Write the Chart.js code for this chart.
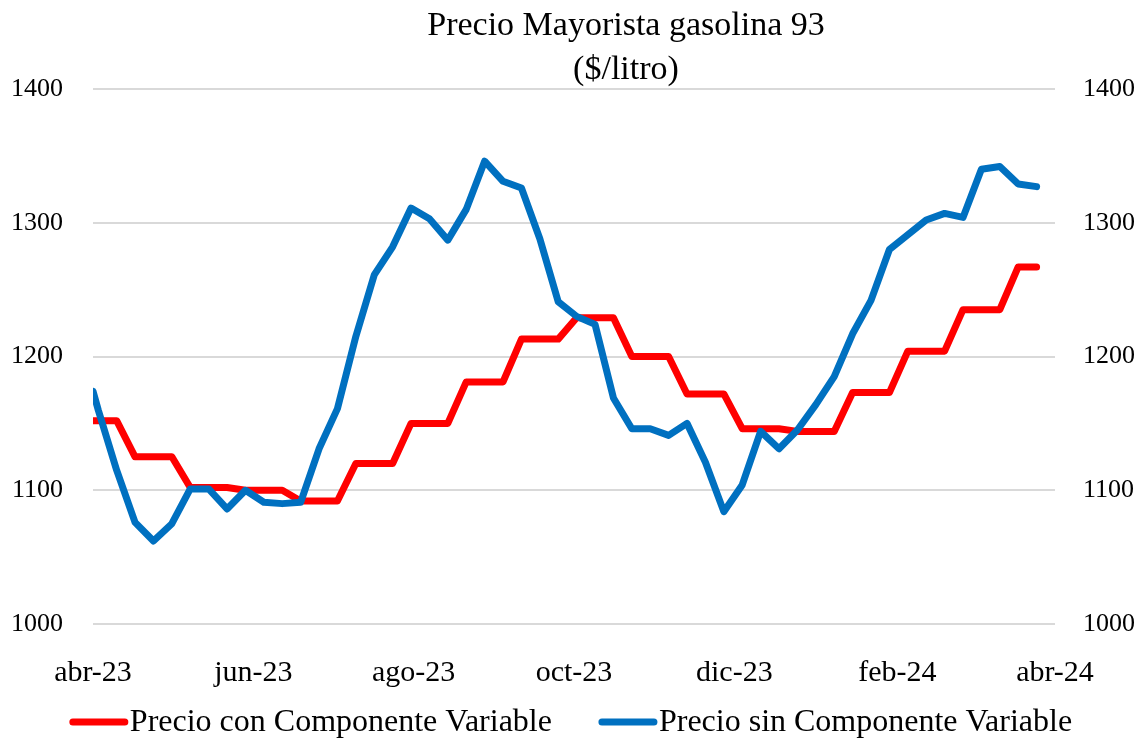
<!DOCTYPE html>
<html>
<head>
<meta charset="utf-8">
<script src="https://cdn.jsdelivr.net/npm/chart.js@4.4.1/dist/chart.umd.min.js"></script>
<style>
  html, body { margin: 0; padding: 0; background: #ffffff; }
  #wrap { width: 1147px; height: 740px; position: relative; }
</style>
</head>
<body>
<div id="wrap"><canvas id="c" width="1147" height="740"></canvas></div>
<script>
// ---------------- data ----------------
const titleLines = ["Precio Mayorista gasolina 93", "($/litro)"];
const seriesNames = ["Precio con Componente Variable", "Precio sin Componente Variable"];

const weekDates = [
  "2023-04-01","2023-04-03","2023-04-10","2023-04-17","2023-04-24","2023-05-01","2023-05-08",
  "2023-05-15","2023-05-22","2023-05-29","2023-06-05","2023-06-12","2023-06-19","2023-06-26",
  "2023-07-03","2023-07-10","2023-07-17","2023-07-24","2023-07-31","2023-08-07","2023-08-14",
  "2023-08-21","2023-08-28","2023-09-04","2023-09-11","2023-09-18","2023-09-25","2023-10-02",
  "2023-10-09","2023-10-16","2023-10-23","2023-10-30","2023-11-06","2023-11-13","2023-11-20",
  "2023-11-27","2023-12-04","2023-12-11","2023-12-18","2023-12-25","2024-01-01","2024-01-08",
  "2024-01-15","2024-01-22","2024-01-29","2024-02-05","2024-02-12","2024-02-19","2024-02-26",
  "2024-03-04","2024-03-11","2024-03-18","2024-03-25"
];

const conComponente = [
  1152, 1152, 1152, 1125, 1125, 1125, 1102, 1102, 1102, 1100, 1100, 1100, 1092, 1092,
  1092, 1120, 1120, 1120, 1150, 1150, 1150, 1181, 1181, 1181, 1213, 1213, 1213, 1229,
  1229, 1229, 1200, 1200, 1200, 1172, 1172, 1172, 1146, 1146, 1146, 1144, 1144, 1144,
  1173, 1173, 1173, 1204, 1204, 1204, 1235, 1235, 1235, 1267, 1267
];

const sinComponente = [
  1174, 1160, 1115, 1076, 1062, 1075, 1101, 1101, 1086, 1100, 1091, 1090, 1091, 1131,
  1161, 1215, 1261, 1282, 1311, 1303, 1287, 1310, 1346, 1331, 1326, 1288, 1241, 1230,
  1224, 1169, 1146, 1146, 1141, 1150, 1121, 1084, 1104, 1144, 1131, 1145, 1164, 1185,
  1217, 1242, 1280, 1291, 1302, 1307, 1304, 1340, 1342, 1329, 1327
];

const tickDates  = ["2023-04-01","2023-06-01","2023-08-01","2023-10-01","2023-12-01","2024-02-01","2024-04-01"];
const tickLabels = ["abr-23","jun-23","ago-23","oct-23","dic-23","feb-24","abr-24"];
const yMin = 1000, yMax = 1400, yStep = 100;

// ---------------- helpers ----------------
const ORIGIN = Date.UTC(2023, 3, 1);
function dayIndex(s) {
  const [y, m, d] = s.split("-").map(Number);
  return Math.round((Date.UTC(y, m - 1, d) - ORIGIN) / 86400000);
}
const tickDays = tickDates.map(dayIndex);
const toPoints = vals => vals.map((v, i) => ({ x: dayIndex(weekDates[i]), y: v }));

const FONT = "'Liberation Serif', 'Times New Roman', serif";
const TEXT = "#000000";
const RED = "#FF0000";
const BLUE = "#0070C0";

// custom title (offset to the right like the reference)
const titlePlugin = {
  id: "customTitle",
  afterDraw(chart) {
    const ctx = chart.ctx;
    ctx.save();
    ctx.fillStyle = TEXT;
    ctx.font = "34px " + FONT;
    ctx.textAlign = "center";
    ctx.textBaseline = "alphabetic";
    ctx.fillText(titleLines[0], 626, 35);
    ctx.fillText(titleLines[1], 626, 79);
    ctx.restore();
  }
};

// custom legend: line sample right next to text
const legendPlugin = {
  id: "customLegend",
  afterDraw(chart) {
    const ctx = chart.ctx;
    const ds = chart.data.datasets;
    const lineLen = 58, gapText = 2, itemGap = 47;
    ctx.save();
    ctx.font = "32px " + FONT;
    const widths = ds.map(d => ctx.measureText(d.label).width);
    const total = widths.reduce((a, w) => a + lineLen + gapText + w, 0) + itemGap * (ds.length - 1);
    let x = 571 - total / 2;
    const y = 722;
    ds.forEach((d, i) => {
      ctx.strokeStyle = d.borderColor;
      ctx.lineWidth = 7;
      ctx.lineCap = "round";
      ctx.beginPath();
      ctx.moveTo(x + 3, y);
      ctx.lineTo(x + lineLen - 3, y);
      ctx.stroke();
      ctx.fillStyle = TEXT;
      ctx.textAlign = "left";
      ctx.textBaseline = "middle";
      ctx.fillText(d.label, x + lineLen + gapText, y + 1);
      x += lineLen + gapText + widths[i] + itemGap;
    });
    ctx.restore();
  }
};

const lineStyle = {
  borderWidth: 7,
  pointRadius: 0,
  tension: 0,
  borderCapStyle: "round",
  borderJoinStyle: "round"
};

new Chart(document.getElementById("c"), {
  type: "line",
  data: {
    datasets: [
      Object.assign({
        label: seriesNames[0],
        data: toPoints(conComponente),
        borderColor: RED,
        backgroundColor: RED,
        order: 1
      }, lineStyle),
      Object.assign({
        label: seriesNames[1],
        data: toPoints(sinComponente),
        borderColor: BLUE,
        backgroundColor: BLUE,
        order: 0
      }, lineStyle)
    ]
  },
  options: {
    responsive: false,
    animation: false,
    devicePixelRatio: 1,
    layout: { padding: { top: 89, bottom: 0, left: 0, right: 0 } },
    plugins: {
      legend: { display: false },
      title: { display: false },
      tooltip: { enabled: false }
    },
    scales: {
      x: {
        type: "linear",
        position: "bottom",
        min: tickDays[0],
        max: tickDays[tickDays.length - 1],
        grid: { display: false },
        border: { display: false },
        afterBuildTicks: s => { s.ticks = tickDays.map(v => ({ value: v })); },
        afterFit: s => { s.height = 116; },
        ticks: {
          autoSkip: false,
          maxRotation: 0,
          padding: 23,
          color: TEXT,
          font: { family: FONT, size: 30 },
          callback: v => tickLabels[tickDays.indexOf(v)]
        }
      },
      y: {
        position: "left",
        min: yMin,
        max: yMax,
        grid: { color: "#D9D9D9", lineWidth: 2, drawTicks: false },
        border: { display: false },
        afterFit: s => { s.width = 93; },
        ticks: { stepSize: yStep, padding: 30, color: TEXT, font: { family: FONT, size: 26 },
                 callback: v => String(v) }
      },
      y2: {
        position: "right",
        min: yMin,
        max: yMax,
        grid: { display: false, drawTicks: false },
        border: { display: false },
        afterFit: s => { s.width = 92; },
        ticks: { stepSize: yStep, padding: 28, color: TEXT, font: { family: FONT, size: 26 },
                 callback: v => String(v) }
      }
    }
  },
  plugins: [titlePlugin, legendPlugin]
});
</script>
</body>
</html>
